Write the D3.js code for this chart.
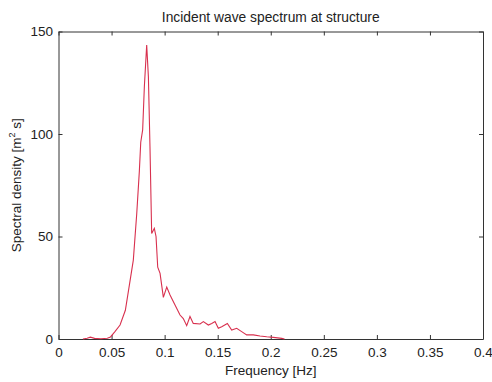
<!DOCTYPE html>
<html>
<head>
<meta charset="utf-8">
<script src="https://cdn.jsdelivr.net/npm/d3@7"></script>
<style>
  body { margin: 0; background: #fff; }
  text { font-family: "Liberation Sans", Arial, sans-serif; fill: #222; }
</style>
</head>
<body>
<div id="chart"></div>
<script>
// spectrum
const freq = [0.023, 0.027, 0.030, 0.034, 0.040, 0.046, 0.049, 0.053, 0.058, 0.063, 0.067, 0.0705,
  0.0737, 0.0762, 0.0775, 0.0793, 0.0809, 0.0831, 0.0847, 0.0862, 0.0878, 0.0903, 0.0919, 0.0935,
  0.0957, 0.0988, 0.102, 0.1051, 0.1098, 0.1145, 0.1176, 0.1208, 0.1239, 0.127, 0.1334, 0.1365,
  0.1412, 0.1444, 0.1475, 0.1506, 0.1538, 0.1591, 0.1632, 0.1679, 0.1726, 0.1773, 0.1836, 0.1899,
  0.1962, 0.2024, 0.2104, 0.213];
const density = [0, 0.4, 0.9, 0.3, 0.1, 0.4, 1.0, 3.5, 6.8, 14, 27, 38.5,
  61, 82, 96, 102, 123, 143.4, 128, 93.8, 51.5, 54, 50, 35,
  32, 20.3, 25.3, 21.5, 16.6, 11.7, 10, 6.5, 11, 7.6, 7.3, 8.5,
  6.8, 7.6, 8.5, 5.2, 6, 7.6, 4.4, 5.2, 3.6, 2, 2, 1.5,
  1.1, 0.8, 0.3, 0];
const xTicks = [0, 0.05, 0.1, 0.15, 0.2, 0.25, 0.3, 0.35, 0.4];
const yTicks = [0, 50, 100, 150];

const width = 492, height = 382;
const margin = {top: 31.5, right: 9, bottom: 43, left: 58.5};
const w = width - margin.left - margin.right;
const h = height - margin.top - margin.bottom;

const svg = d3.select('#chart').append('svg')
  .attr('width', width).attr('height', height);
const g = svg.append('g').attr('transform', `translate(${margin.left},${margin.top})`);

const x = d3.scaleLinear().domain([0, 0.4]).range([0, w]);
const y = d3.scaleLinear().domain([0, 150]).range([h, 0]);

const fmt = d => d === 0 ? '0' : String(d);

// axes, MATLAB style: ticks point inward, box on all sides
const axBottom = g.append('g').attr('transform', `translate(0,${h})`)
  .call(d3.axisBottom(x).tickValues(xTicks).tickFormat(fmt).tickSizeInner(-4).tickSizeOuter(0).tickPadding(8));
const axLeft = g.append('g')
  .call(d3.axisLeft(y).tickValues(yTicks).tickFormat(fmt).tickSizeInner(-4).tickSizeOuter(0).tickPadding(5.5));
const axTop = g.append('g')
  .call(d3.axisTop(x).tickValues(xTicks).tickFormat('').tickSizeInner(-4).tickSizeOuter(0));
const axRight = g.append('g').attr('transform', `translate(${w},0)`)
  .call(d3.axisRight(y).tickValues(yTicks).tickFormat('').tickSizeInner(-4).tickSizeOuter(0));

[axBottom, axLeft, axTop, axRight].forEach(a => {
  a.selectAll('path, line').attr('stroke', '#333').attr('stroke-width', 1);
  a.selectAll('text').style('font-size', '13.5px').style('fill', '#222');
});

const line = d3.line().x((d, i) => x(freq[i])).y(d => y(d));
g.append('path')
  .datum(density)
  .attr('d', line)
  .attr('fill', 'none')
  .attr('stroke', '#d8304e')
  .attr('stroke-width', 1.1);

svg.append('text')
  .attr('x', margin.left + w / 2).attr('y', 21.5)
  .attr('text-anchor', 'middle')
  .style('font-size', '13.8px')
  .text('Incident wave spectrum at structure');

svg.append('text')
  .attr('x', margin.left + w / 2).attr('y', 375)
  .attr('text-anchor', 'middle')
  .style('font-size', '13.5px')
  .text('Frequency [Hz]');

const yl = svg.append('text')
  .attr('transform', `translate(21,${margin.top + h / 2}) rotate(-90)`)
  .attr('text-anchor', 'middle')
  .style('font-size', '13.5px');
yl.append('tspan').text('Spectral density [m');
yl.append('tspan').attr('dy', -6).style('font-size', '9px').text('2');
yl.append('tspan').attr('dy', 6).text(' s]');
</script>
</body>
</html>
